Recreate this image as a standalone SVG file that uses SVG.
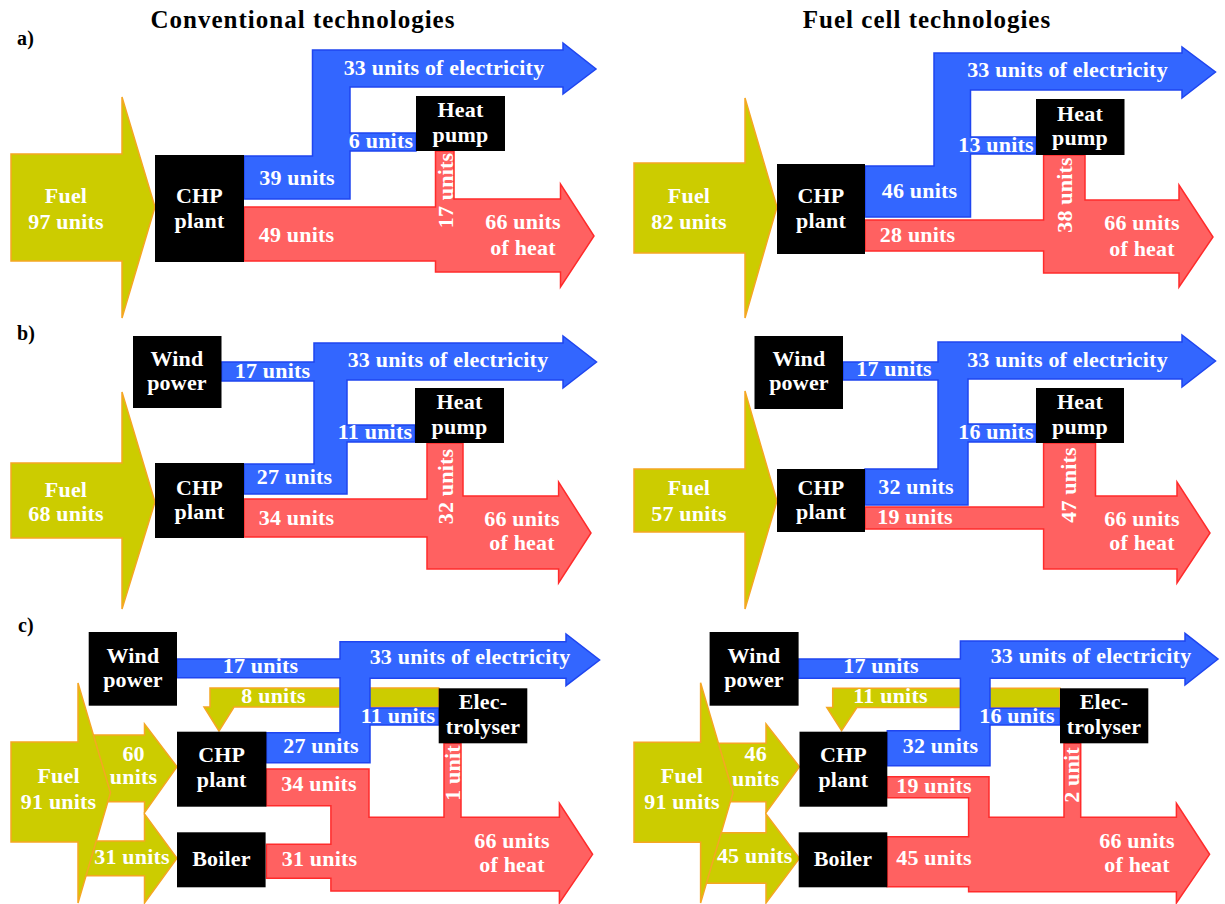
<svg xmlns="http://www.w3.org/2000/svg" width="1225" height="904" viewBox="0 0 1225 904">
<style>
text{font-family:"Liberation Serif","DejaVu Serif",serif;font-weight:bold;font-size:22px;fill:#fff;letter-spacing:0.2px;text-anchor:middle}
.title{font-size:25px;fill:#000;letter-spacing:1px}
.lbl{font-size:20px;fill:#000;text-anchor:start}
.box{fill:#000}
.fuel{fill:#cccc00;stroke:#f5a623;stroke-width:1.5}
.el{fill:#3366ff;stroke:#1f45f0;stroke-width:1.5}
.heat{fill:#ff6161;stroke:#ff2b2b;stroke-width:1.5}
</style>
<rect width="1225" height="904" fill="#fff"/>
<text class="title" x="303" y="28">Conventional technologies</text>
<text class="title" x="927" y="28">Fuel cell technologies</text>
<text class="lbl" x="17" y="45">a)</text>
<text class="lbl" x="17" y="340">b)</text>
<text class="lbl" x="18" y="632">c)</text>

<!-- ===== a) conventional ===== -->
<g id="a-conv-flows">
<polygon class="fuel" points="11,154 122,154 122,97 155,207 122,318 122,261 11,261"/>
<polygon class="el" points="244,156 312.5,156 312.5,50 563,50 563,43 596,69 563,94 563,87 350,87 350,133 416,133 416,151 350,151 350,199 244,199"/>
<polygon class="heat" points="244,207 435.5,207 435.5,151 454,151 454,199 560.5,199 560.5,184 594,236 560.5,287 560.5,272 435.5,272 435.5,261 244,261"/>
<text x="66" y="203">Fuel</text><text x="66" y="229">97 units</text>
<text x="444" y="75">33 units of electricity</text>
<text x="297" y="185">39 units</text>
<text x="381" y="148">6 units</text>
<text x="296.5" y="242">49 units</text>
<text transform="translate(453,190.5) rotate(-90)">17 units</text>
<text x="523" y="229">66 units</text><text x="523" y="255">of heat</text>
</g>
<g id="a-conv-chp"><rect class="box" x="155" y="155" width="89" height="107"/><text x="199.5" y="203">CHP</text><text x="199.5" y="228">plant</text></g>
<g id="a-conv-hp"><rect class="box" x="416" y="96" width="89" height="55"/><text x="460.5" y="117">Heat</text><text x="460.5" y="142">pump</text></g>

<!-- ===== a) fuel cell ===== -->
<g id="a-fc-flows">
<polygon class="fuel" points="634,163 745,163 745,98 777,207 745,318 745,253 634,253"/>
<polygon class="el" points="865,166 934,166 934,53 1182,53 1182,47 1215.5,72 1182,98 1182,90 970.5,90 970.5,137 1036,137 1036,154 970.5,154 970.5,217 865,217"/>
<polygon class="heat" points="865,220 1043.6,220 1043.6,155 1085,155 1085,200 1179,200 1179,185 1213,237 1179,287 1179,273 1043.6,273 1043.6,251 865,251"/>
<text x="689" y="203">Fuel</text><text x="689" y="229">82 units</text>
<text x="1067.5" y="77">33 units of electricity</text>
<text x="996" y="152">13 units</text>
<text x="919.5" y="198">46 units</text>
<text x="917.6" y="242">28 units</text>
<text transform="translate(1072,195) rotate(-90)">38 units</text>
<text x="1142" y="230">66 units</text><text x="1142" y="256">of heat</text>
</g>
<g id="a-fc-chp"><rect class="box" x="777" y="164" width="88" height="90"/><text x="821" y="203">CHP</text><text x="821" y="228">plant</text></g>
<g id="a-fc-hp"><rect class="box" x="1036" y="99" width="88.5" height="56"/><text x="1080" y="121">Heat</text><text x="1080" y="145">pump</text></g>

<!-- ===== b) conventional ===== -->
<g id="b-conv-flows">
<polygon class="fuel" points="11,463 122,463 122,392 155,502 122,609 122,538 11,538"/>
<polygon class="el" points="221.5,362 314,362 314,343 563,343 563,336 596.5,362 563,388 563,380 347,380 347,425 415,425 415,442 347,442 347,494 244,494 244,464 314,464 314,381 221.5,381"/>
<polygon class="heat" points="244,499 427,499 427,443 463,443 463,496 558.6,496 558.6,482 591,533 558.6,583 558.6,569 427,569 427,537 244,537"/>
<text x="66" y="497">Fuel</text><text x="66" y="521">68 units</text>
<text x="272.5" y="378">17 units</text>
<text x="448" y="367">33 units of electricity</text>
<text x="375" y="439">11 units</text>
<text x="294.5" y="484">27 units</text>
<text x="296.5" y="525">34 units</text>
<text transform="translate(453,486.5) rotate(-90)">32 units</text>
<text x="522" y="526">66 units</text><text x="522" y="550">of heat</text>
</g>
<g id="b-conv-wind"><rect class="box" x="133" y="336" width="88.5" height="72"/><text x="177" y="366">Wind</text><text x="177" y="390">power</text></g>
<g id="b-conv-chp"><rect class="box" x="155" y="463" width="89" height="75"/><text x="199.5" y="495">CHP</text><text x="199.5" y="519">plant</text></g>
<g id="b-conv-hp"><rect class="box" x="415" y="388" width="89" height="55"/><text x="459.5" y="409">Heat</text><text x="459.5" y="434">pump</text></g>

<!-- ===== b) fuel cell ===== -->
<g id="b-fc-flows">
<polygon class="fuel" points="634,469 745,469 745,391 777,501 745,609 745,532 634,532"/>
<polygon class="el" points="843,362 938,362 938,342 1182,342 1182,335 1215.5,361 1182,387 1182,379 968,379 968,424 1036,424 1036,442 968,442 968,505 865,505 865,469 938,469 938,380 843,380"/>
<polygon class="heat" points="865,507 1043.6,507 1043.6,443 1095.5,443 1095.5,496 1177,496 1177,482 1210,533 1177,583 1177,569 1043.6,569 1043.6,529 865,529"/>
<text x="689" y="495">Fuel</text><text x="689" y="521">57 units</text>
<text x="894" y="376">17 units</text>
<text x="1067.5" y="367">33 units of electricity</text>
<text x="996" y="439">16 units</text>
<text x="916" y="494">32 units</text>
<text x="915" y="524">19 units</text>
<text transform="translate(1076,485) rotate(-90)">47 units</text>
<text x="1142" y="526">66 units</text><text x="1142" y="550">of heat</text>
</g>
<g id="b-fc-wind"><rect class="box" x="754.5" y="336" width="88.5" height="73"/><text x="799" y="366">Wind</text><text x="799" y="390">power</text></g>
<g id="b-fc-chp"><rect class="box" x="777" y="469" width="88" height="63"/><text x="821" y="495">CHP</text><text x="821" y="519">plant</text></g>
<g id="b-fc-hp"><rect class="box" x="1036" y="388" width="88" height="55"/><text x="1080" y="409">Heat</text><text x="1080" y="434">pump</text></g>

<!-- ===== c) conventional ===== -->
<g id="c-conv-flows">
<polygon class="fuel" points="80,735 144.5,735 144.5,724 177,766.7 144.5,812.7 144.5,801.7 80,801.7"/>
<polygon class="fuel" points="80,841 144.5,841 144.5,814 177,858.3 144.5,903 144.5,875.7 80,875.7"/>
<polygon class="fuel" points="11,742 78,742 78,683 110.5,792.7 78,903 78,842 11,842"/>
<polygon class="fuel" points="438.7,688 210,688 210,707 204,707 219,731 234,707 438.7,707"/>
<polygon class="el" points="177,659 340,659 340,641.7 566,641.7 566,634 599.6,660 566,685.7 566,678.3 370,678.3 370,708 438.7,708 438.7,725 370,725 370,762.7 266.4,762.7 266.4,732.7 340,732.7 340,677.7 177,677.7"/>
<polygon class="heat" points="266.4,769 369,769 369,817.3 444,817.3 444,743.3 461,743.3 461,817.3 559.4,817.3 559.4,803.3 592.6,854.3 559.4,903 559.4,891 330.9,891 330.9,878.3 266.4,878.3 266.4,844.3 330.9,844.3 330.9,805.7 266.4,805.7"/>
<text x="58.6" y="783">Fuel</text><text x="58.6" y="809">91 units</text>
<text x="133.6" y="760.7">60</text><text x="133.6" y="784">units</text>
<text x="132" y="864">31 units</text>
<text x="260.5" y="673.3">17 units</text>
<text x="470" y="664">33 units of electricity</text>
<text x="273.5" y="703">8 units</text>
<text x="398" y="723">11 units</text>
<text x="321" y="753">27 units</text>
<text x="319" y="791">34 units</text>
<text x="319.5" y="866">31 units</text>
<text transform="translate(460,773) rotate(-90)">1 unit</text>
<text x="512" y="847.7">66 units</text><text x="512" y="872.3">of heat</text>
</g>
<g id="c-conv-wind"><rect class="box" x="88.7" y="632" width="88.3" height="73.7"/><text x="133" y="662.7">Wind</text><text x="133" y="686.7">power</text></g>
<g id="c-conv-elec"><rect class="box" x="438.7" y="688.3" width="88.6" height="55"/><text x="483" y="709">Elec-</text><text x="483" y="734">trolyser</text></g>
<g id="c-conv-chp"><rect class="box" x="177" y="731.7" width="89.4" height="75"/><text x="221.7" y="761.7">CHP</text><text x="221.7" y="786.7">plant</text></g>
<g id="c-conv-boiler"><rect class="box" x="177" y="832.3" width="88.6" height="55"/><text x="221.5" y="865.7">Boiler</text></g>

<!-- ===== c) fuel cell ===== -->
<g id="c-fc-flows">
<polygon class="fuel" points="705,743.3 766,743.3 766,724 799.5,766.7 766,812.7 766,801.7 705,801.7"/>
<polygon class="fuel" points="705,832.7 766,832.7 766,814 799.5,858.3 766,903 766,883.3 705,883.3"/>
<polygon class="fuel" points="634,742.3 700.6,742.3 700.6,682.7 733,792.7 700.6,903 700.6,842.3 634,842.3"/>
<polygon class="fuel" points="1060,688.3 832.7,688.3 832.7,707.5 826.8,707.5 841.6,730.7 856.9,707.5 1060,707.5"/>
<polygon class="el" points="798.7,659 960.4,659 960.4,641 1185,641 1185,633.3 1218,659 1185,685 1185,678.3 990,678.3 990,708.3 1060,708.3 1060,725 990,725 990,765.7 887.3,765.7 887.3,730.7 960.4,730.7 960.4,678.3 798.7,678.3"/>
<polygon class="heat" points="887.3,776.7 989,776.7 989,817.3 1064,817.3 1064,743.3 1080.7,743.3 1080.7,817.3 1176.4,817.3 1176.4,803.3 1209.6,854.3 1176.4,903 1176.4,891.7 968.6,891.7 968.6,886.7 887.3,886.7 887.3,836.7 968.6,836.7 968.6,797.7 887.3,797.7"/>
<text x="682" y="783">Fuel</text><text x="682" y="809">91 units</text>
<text x="755.7" y="760.7">46</text><text x="755.7" y="785.7">units</text>
<text x="754.7" y="863">45 units</text>
<text x="881" y="673.3">17 units</text>
<text x="1091" y="663.3">33 units of electricity</text>
<text x="890.5" y="703.3">11 units</text>
<text x="1017" y="723.3">16 units</text>
<text x="940.5" y="752.7">32 units</text>
<text x="934" y="792.7">19 units</text>
<text x="934" y="865">45 units</text>
<text transform="translate(1079,775) rotate(-90)">2 unit</text>
<text x="1137" y="847.7">66 units</text><text x="1137" y="872.3">of heat</text>
</g>
<g id="c-fc-wind"><rect class="box" x="709.6" y="632" width="89" height="73.7"/><text x="754" y="662.7">Wind</text><text x="754" y="686.7">power</text></g>
<g id="c-fc-elec"><rect class="box" x="1060" y="688.3" width="88.3" height="55"/><text x="1104" y="709">Elec-</text><text x="1104" y="734">trolyser</text></g>
<g id="c-fc-chp"><rect class="box" x="799.5" y="731.7" width="87.8" height="75"/><text x="843.4" y="761.7">CHP</text><text x="843.4" y="786.7">plant</text></g>
<g id="c-fc-boiler"><rect class="box" x="798.7" y="832.3" width="88.6" height="55"/><text x="843" y="865.7">Boiler</text></g>
</svg>
